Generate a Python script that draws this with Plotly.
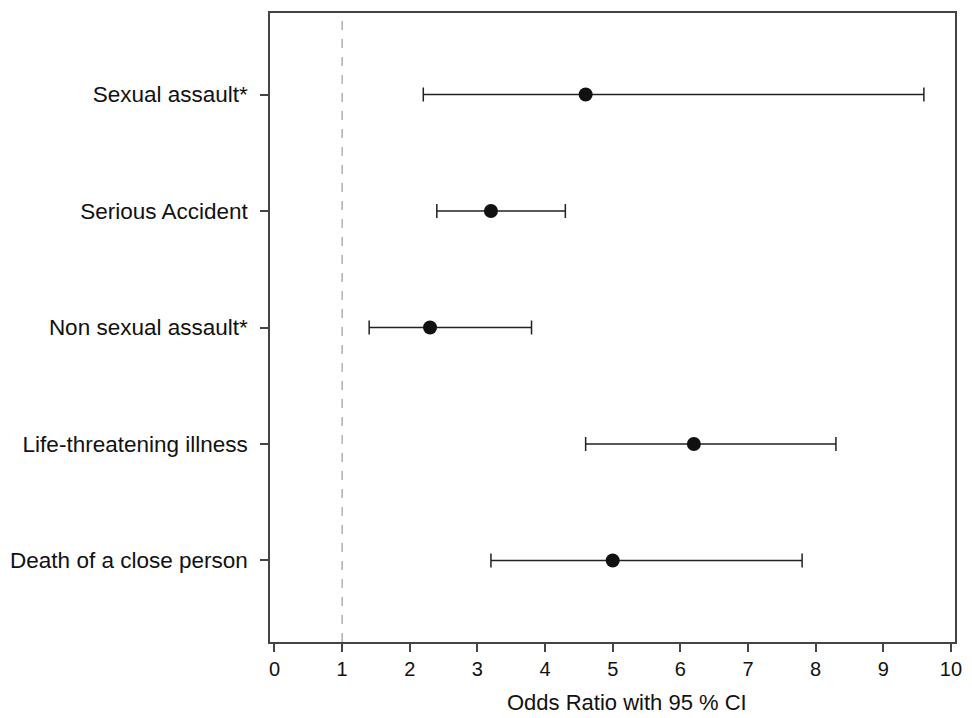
import plotly.graph_objects as go

categories = ["Sexual assault*", "Serious Accident", "Non sexual assault*",
              "Life-threatening illness", "Death of a close person"]
odds_ratio = [4.6, 3.2, 2.3, 6.2, 5.0]
ci_lower = [2.2, 2.4, 1.4, 4.6, 3.2]
ci_upper = [9.6, 4.3, 3.8, 8.3, 7.8]
x_ticks = [0, 1, 2, 3, 4, 5, 6, 7, 8, 9, 10]
reference_line = 1

n = len(categories)
ypos = [n - i for i in range(n)]

FONT = "Liberation Sans, Arial, Helvetica, sans-serif"

fig = go.Figure()
fig.add_trace(go.Scatter(
    x=odds_ratio, y=ypos, mode="markers",
    marker=dict(size=14, color="#111111", line=dict(width=0)),
    error_x=dict(type="data", symmetric=False,
                 array=[u - o for u, o in zip(ci_upper, odds_ratio)],
                 arrayminus=[o - l for o, l in zip(odds_ratio, ci_lower)],
                 color="#222222", thickness=1.5, width=7),
    showlegend=False, hoverinfo="skip",
))

fig.add_shape(type="line", xref="x", yref="paper", x0=reference_line, x1=reference_line,
              y0=0, y1=1, line=dict(color="#888888", width=1, dash="dash"), layer="below")

fig.update_layout(
    width=972, height=718,
    margin=dict(l=270, r=10, t=13, b=76),
    plot_bgcolor="white", paper_bgcolor="white",
    font=dict(family=FONT, size=22, color="#111111"),
    xaxis=dict(range=[-0.066, 10.06], tickvals=x_ticks, ticktext=[str(t) for t in x_ticks],
               showgrid=False, zeroline=False, showline=True, mirror=True,
               linecolor="#444444", linewidth=1.5, ticks="outside", ticklen=8,
               tickcolor="#444444", tickwidth=1.5, tickfont=dict(size=20)),
    yaxis=dict(range=[0.3, 5.7], tickvals=ypos, ticktext=categories,
               showgrid=False, zeroline=False, showline=True, mirror=True,
               linecolor="#444444", linewidth=1.5, ticks="outside", ticklen=8,
               tickcolor="#444444", tickwidth=1.5, tickfont=dict(size=22.5),
               ticklabelstandoff=8),
    annotations=[dict(text="Odds Ratio with 95 % CI", xref="paper", yref="paper",
                      x=0.521, y=0, yshift=-75, xanchor="center", yanchor="bottom",
                      showarrow=False, font=dict(size=22))],
)

fig.write_html("out.html", config={"displayModeBar": False},
               post_script="document.body.style.margin='0';")
